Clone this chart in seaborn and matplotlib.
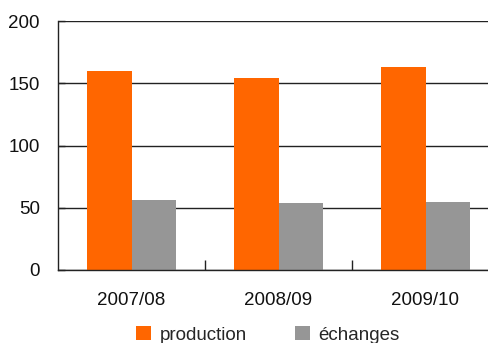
import matplotlib
matplotlib.use("Agg")
import matplotlib.pyplot as plt
import seaborn as sns
import pandas as pd
from matplotlib.ticker import FixedLocator

periodes = ["2007/08", "2008/09", "2009/10"]
production = [160, 154, 163]
echanges = [56.5, 53.5, 55]
series = ["production", "échanges"]
couleurs = ["#FF6600", "#969696"]
yticks = [0, 50, 100, 150, 200]

df = pd.DataFrame({
    "periode": periodes * 2,
    "valeur": production + echanges,
    "serie": [series[0]] * 3 + [series[1]] * 3,
})

sns.set_theme(style="white")
plt.rcParams["font.family"] = ["Liberation Sans", "DejaVu Sans"]

fig = plt.figure(figsize=(4.88, 3.43), dpi=100)
ax = fig.add_axes([58 / 488, 73 / 343, 441 / 488, 249 / 343])

sns.barplot(data=df, x="periode", y="valeur", hue="serie", palette=couleurs,
            width=0.6, saturation=1, ax=ax, errorbar=None, linewidth=0)

ax.set_ylim(0, 200)
ax.set_xlim(-0.5, 2.5)
ax.set_yticks(yticks)
ax.set_yticklabels([str(v) for v in yticks])
ax.yaxis.grid(True, color="#222222", linewidth=1)
ax.set_axisbelow(True)
ax.set_xlabel("")
ax.set_ylabel("")

for s in ["top", "right"]:
    ax.spines[s].set_visible(False)
for s in ["left", "bottom"]:
    ax.spines[s].set_color("#222222")
    ax.spines[s].set_linewidth(1)

ax.tick_params(axis="y", direction="in", length=5, width=1, color="#222222",
               labelsize=13.5, pad=13, left=True)
ax.tick_params(axis="x", which="major", length=0, labelsize=13.5, pad=16)
ax.xaxis.set_minor_locator(FixedLocator([0.5, 1.5]))
ax.tick_params(axis="x", which="minor", direction="in", length=7, width=1,
               color="#222222", bottom=True)
for lbl in ax.get_xticklabels() + ax.get_yticklabels():
    lbl.set_color("#111111")

handles, labels = ax.get_legend_handles_labels()
ax.get_legend().remove()
fig.legend(handles, labels, loc="center", bbox_to_anchor=(268 / 488, 1 - 335 / 343),
           ncol=2, frameon=False, fontsize=13.5, handlelength=0.78, handleheight=0.78,
           handletextpad=0.45, columnspacing=2.6, borderaxespad=0)

fig.savefig("out.png", dpi=100)
